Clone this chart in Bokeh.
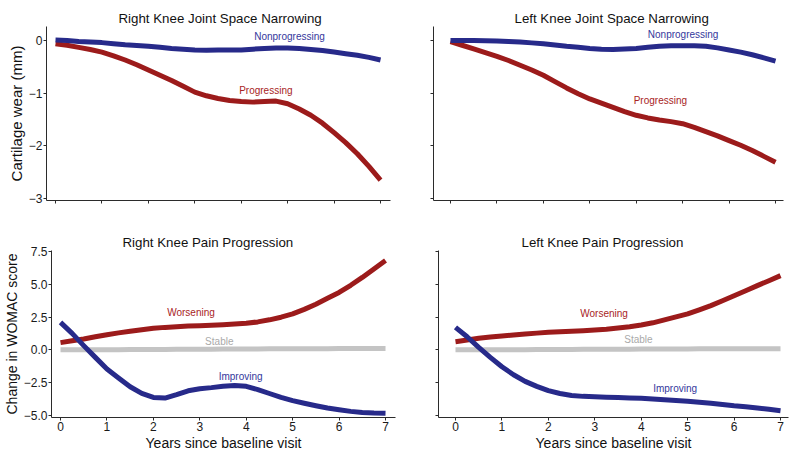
from bokeh.plotting import figure
from bokeh.layouts import row, column
from bokeh.models import Range1d, FixedTicker, Label
from bokeh.embed import file_html
from bokeh.resources import INLINE

# ---------------- data ----------------
YEARS = [0, 0.25, 0.5, 0.75, 1, 1.25, 1.5, 1.75, 2, 2.25, 2.5, 2.75, 3, 3.25, 3.5,
         3.75, 4, 4.25, 4.5, 4.75, 5, 5.25, 5.5, 5.75, 6, 6.25, 6.5, 6.75, 7]

# Right knee joint space narrowing (mm)
R_NONPROG = [0.01, 0.0, -0.02, -0.03, -0.04, -0.06, -0.08, -0.095, -0.11, -0.13, -0.15, -0.165, -0.18, -0.185, -0.18,
             -0.18, -0.18, -0.165, -0.15, -0.14, -0.14, -0.15, -0.17, -0.19, -0.22, -0.25, -0.28, -0.32, -0.37]
R_PROG = [-0.06, -0.09, -0.13, -0.17, -0.22, -0.29, -0.37, -0.46, -0.56, -0.66, -0.76, -0.87, -0.98, -1.05, -1.1,
          -1.14, -1.16, -1.17, -1.16, -1.15, -1.2, -1.3, -1.42, -1.57, -1.75, -1.94, -2.15, -2.39, -2.65]

# Left knee joint space narrowing (mm)
L_NONPROG = [0.0, 0.0, 0.0, -0.005, -0.01, -0.02, -0.03, -0.045, -0.06, -0.085, -0.11, -0.13, -0.15, -0.165, -0.17,
             -0.16, -0.15, -0.13, -0.11, -0.1, -0.1, -0.1, -0.11, -0.14, -0.18, -0.22, -0.27, -0.33, -0.39]
L_PROG = [-0.02, -0.09, -0.16, -0.23, -0.3, -0.38, -0.47, -0.56, -0.66, -0.78, -0.9, -1.01, -1.11, -1.19, -1.27,
          -1.35, -1.42, -1.47, -1.51, -1.54, -1.58, -1.65, -1.73, -1.81, -1.9, -1.99, -2.09, -2.2, -2.31]

# Right knee pain (change in WOMAC score)
R_WORSE = [0.55, 0.69, 0.83, 1.0, 1.16, 1.3, 1.42, 1.54, 1.65, 1.72, 1.77, 1.82, 1.85, 1.88, 1.92,
           1.97, 2.03, 2.14, 2.3, 2.5, 2.75, 3.1, 3.5, 3.95, 4.4, 4.95, 5.55, 6.2, 6.85]
R_STABLE = [0.0, 0.0, 0.0, 0.0, 0.01, 0.01, 0.02, 0.02, 0.03, 0.03, 0.04, 0.04, 0.05, 0.05, 0.06,
            0.06, 0.07, 0.07, 0.08, 0.08, 0.08, 0.09, 0.09, 0.09, 0.1, 0.1, 0.1, 0.1, 0.1]
R_IMPROVE = [2.1, 1.26, 0.32, -0.58, -1.47, -2.16, -2.83, -3.34, -3.65, -3.7, -3.44, -3.14, -2.98, -2.9, -2.8,
             -2.74, -2.8, -3.05, -3.35, -3.65, -3.9, -4.1, -4.29, -4.46, -4.6, -4.72, -4.8, -4.85, -4.87]

# Left knee pain (change in WOMAC score)
L_WORSE = [0.62, 0.75, 0.88, 0.98, 1.06, 1.14, 1.21, 1.28, 1.34, 1.38, 1.42, 1.47, 1.52, 1.58, 1.67,
           1.77, 1.9, 2.07, 2.29, 2.52, 2.75, 3.06, 3.39, 3.76, 4.15, 4.53, 4.92, 5.3, 5.69]
L_STABLE = [0.0, 0.0, 0.0, 0.0, 0.01, 0.01, 0.01, 0.02, 0.02, 0.03, 0.03, 0.04, 0.04, 0.05, 0.05,
            0.05, 0.06, 0.06, 0.07, 0.07, 0.07, 0.08, 0.08, 0.08, 0.08, 0.09, 0.09, 0.09, 0.09]
L_IMPROVE = [1.72, 1.0, 0.19, -0.58, -1.3, -1.91, -2.42, -2.8, -3.13, -3.35, -3.5, -3.57, -3.6, -3.63, -3.65,
             -3.69, -3.72, -3.77, -3.82, -3.88, -3.95, -4.02, -4.1, -4.19, -4.29, -4.37, -4.46, -4.56, -4.67]

X_TICKS = [0, 1, 2, 3, 4, 5, 6, 7]
X_TICK_LABELS = ["0", "1", "2", "3", "4", "5", "6", "7"]
JSN_TICKS = [0, -1, -2, -3]
JSN_TICK_LABELS = ["0", "\u22121", "\u22122", "\u22123"]
PAIN_TICKS = [7.5, 5.0, 2.5, 0.0, -2.5, -5.0]
PAIN_TICK_LABELS = ["7.5", "5.0", "2.5", "0.0", "\u22122.5", "\u22125.0"]

TITLES = ["Right Knee Joint Space Narrowing", "Left Knee Joint Space Narrowing",
          "Right Knee Pain Progression", "Left Knee Pain Progression"]
JSN_YLABEL = "Cartilage wear (mm)"
PAIN_YLABEL = "Change in WOMAC score"
XLABEL = "Years since baseline visit"

# curve labels: (text, x, y) per panel
LABELS_RJSN = [("Nonprogressing", 5.04, 0.07), ("Progressing", 4.53, -0.94)]
LABELS_LJSN = [("Nonprogressing", 5.01, 0.12), ("Progressing", 4.52, -1.13)]
LABELS_RPAIN = [("Worsening", 2.81, 2.85), ("Stable", 3.42, 0.67), ("Improving", 3.88, -2.01)]
LABELS_LPAIN = [("Worsening", 3.2, 2.77), ("Stable", 3.94, 0.8), ("Improving", 4.73, -2.93)]

# ---------------- style ----------------
FONT = "Liberation Sans"
BLUE = "#272a8a"
RED = "#9c1b1b"
GRAY = "#c4c4c4"
BLUE_TXT = "#34379c"
RED_TXT = "#a82424"
GRAY_TXT = "#a9a9a9"
AXIS_COL = "#2b2b2b"
TXT_COL = {"Nonprogressing": BLUE_TXT, "Progressing": RED_TXT, "Improving": BLUE_TXT,
           "Worsening": RED_TXT, "Stable": GRAY_TXT}


def make_fig(title, xr, yr, fw, fh, bl, br, bt, bb, xlabels, ylabels, yticks, ylab_txt,
             ylabel, ylabel_size, xlabel, title_offset):
    p = figure(frame_width=fw, frame_height=fh, x_range=Range1d(*xr), y_range=Range1d(*yr),
               output_backend="svg", toolbar_location=None,
               min_border_left=bl, min_border_right=br, min_border_top=bt, min_border_bottom=bb)
    p.outline_line_color = None
    p.background_fill_color = "white"
    p.border_fill_color = "white"
    p.grid.visible = False
    p.title.text = title
    p.title.text_font = FONT
    p.title.text_font_size = "13.3px"
    p.title.text_font_style = "normal"
    p.title.text_color = "#111111"
    p.title.align = "left"
    p.title.offset = title_offset
    p.title.standoff = 2

    for ax in (p.xaxis[0], p.yaxis[0]):
        ax.axis_line_color = AXIS_COL
        ax.axis_line_width = 1
        ax.major_tick_line_color = AXIS_COL
        ax.major_tick_out = 3
        ax.major_tick_in = 0
        ax.minor_tick_line_color = None
        ax.major_label_text_font = FONT
        ax.major_label_text_font_size = "12px"
        ax.major_label_text_color = "#1a1a1a"
        ax.axis_label_text_font = FONT
        ax.axis_label_text_font_style = "normal"
        ax.axis_label_text_color = "#111111"
        ax.major_label_standoff = 1
        ax.axis_label_standoff = 1

    xa = p.xaxis[0]
    xa.ticker = FixedTicker(ticks=X_TICKS)
    if xlabels:
        xa.major_label_overrides = {t: l for t, l in zip(X_TICKS, X_TICK_LABELS)}
    else:
        xa.major_label_overrides = {t: "" for t in X_TICKS}
        xa.major_label_text_font_size = "0px"
        xa.major_label_standoff = 0
    if xlabel:
        xa.axis_label = xlabel
        xa.axis_label_text_font_size = "14px"

    ya = p.yaxis[0]
    ya.ticker = FixedTicker(ticks=yticks)
    if ylabels:
        ya.major_label_overrides = {t: l for t, l in zip(yticks, ylab_txt)}
    else:
        ya.major_label_overrides = {t: "" for t in yticks}
        ya.major_label_text_font_size = "0px"
        ya.major_label_standoff = 0
    if ylabel:
        ya.axis_label = ylabel
        ya.axis_label_text_font_size = ylabel_size
    return p


def add_labels(p, labels):
    for txt, x, y in labels:
        p.add_layout(Label(x=x, y=y, text=txt, text_align="center", text_baseline="middle",
                           text_font=FONT, text_font_size="10px", text_color=TXT_COL[txt]))


LEFT_XR = (-0.194, 7.215)
RIGHT_XR = (-0.366, 7.172)
JSN_YR = (-3.038, 0.266)
PAIN_YR = (-5.19, 7.615)

p1 = make_fig(TITLES[0], LEFT_XR, JSN_YR, 344, 174, 46, 8, 26, 26, False, True,
              JSN_TICKS, JSN_TICK_LABELS, JSN_YLABEL, "15px", None, 72)
p2 = make_fig(TITLES[1], RIGHT_XR, JSN_YR, 350, 174, 35, 1, 26, 26, False, False,
              JSN_TICKS, JSN_TICK_LABELS, None, None, None, 81)
p3 = make_fig(TITLES[2], LEFT_XR, PAIN_YR, 344, 167, 46, 8, 24, 36, True, True,
              PAIN_TICKS, PAIN_TICK_LABELS, PAIN_YLABEL, "14px", XLABEL, 71)
p4 = make_fig(TITLES[3], RIGHT_XR, PAIN_YR, 350, 167, 35, 1, 24, 36, True, False,
              PAIN_TICKS, PAIN_TICK_LABELS, None, None, XLABEL, 83)

LW = 5
p1.line(YEARS, R_PROG, line_width=LW, color=RED, line_join="round")
p1.line(YEARS, R_NONPROG, line_width=LW, color=BLUE, line_join="round")
p2.line(YEARS, L_PROG, line_width=LW, color=RED, line_join="round")
p2.line(YEARS, L_NONPROG, line_width=LW, color=BLUE, line_join="round")

p3.line(YEARS, R_STABLE, line_width=LW, color=GRAY, line_join="round")
p3.line(YEARS, R_WORSE, line_width=LW, color=RED, line_join="round")
p3.line(YEARS, R_IMPROVE, line_width=LW, color=BLUE, line_join="round")
p4.line(YEARS, L_STABLE, line_width=LW, color=GRAY, line_join="round")
p4.line(YEARS, L_WORSE, line_width=LW, color=RED, line_join="round")
p4.line(YEARS, L_IMPROVE, line_width=LW, color=BLUE, line_join="round")

add_labels(p1, LABELS_RJSN)
add_labels(p2, LABELS_LJSN)
add_labels(p3, LABELS_RPAIN)
add_labels(p4, LABELS_LPAIN)

layout = column(row(p1, p2), row(p3, p4))

open("out.html", "w").write(file_html(layout, INLINE))
